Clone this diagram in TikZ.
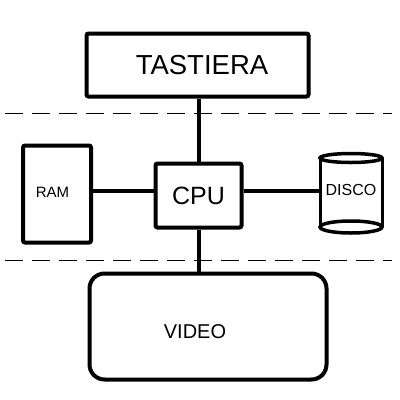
\documentclass[tikz,border=0pt]{standalone}
\usepackage{fontspec}
\setmainfont{Liberation Sans}
\begin{document}
\begin{tikzpicture}[x=1pt,y=-1pt,
  box/.style={draw,line width=4pt,rounded corners=2pt,inner sep=0pt},
  wire/.style={line width=4pt},
  sep/.style={line width=1pt,dash pattern=on 18pt off 9pt}]
\useasboundingbox (0,0) rectangle (400,400);
% boxes
\node[box,minimum width=222pt,minimum height=63pt] (tast) at (197.5,65) {};
\node[font=\fontsize{27.5}{30}\selectfont] (tlab) at (202,65) {TASTIERA};
\node[box,minimum width=68pt,minimum height=97pt] (ram) at (57,194) {};
\node[font=\fontsize{15}{18}\selectfont] (rlab) at (52.5,192) {RAM};
\node[box,minimum width=86pt,minimum height=64pt,font=\fontsize{25}{28}\selectfont] (cpu) at (198.5,195.5) {CPU};
\node[box,rounded corners=15pt,minimum width=237pt,minimum height=106pt] (video) at (208,326.5) {};
\node[font=\fontsize{20}{24}\selectfont] (vlab) at (195,332) {VIDEO};
% cylinder
\coordinate (dtop) at (351,158);
\coordinate (dbot) at (351,227);
\draw[line width=3pt] (320,158) -- (320,227) (382,158) -- (382,227);
\draw[line width=3.5pt,fill=white] (dtop) ellipse [x radius=31, y radius=4.5];
\draw[line width=3.5pt] (dbot) ellipse [x radius=31, y radius=6];
\node[font=\fontsize{16}{19}\selectfont,inner sep=0pt] (disco) at (351,190) {DISCO};
\coordinate (dleft) at (320,191);
% separators
\coordinate (s1a) at (5,113); \coordinate (s1b) at (392,113);
\coordinate (s2a) at (5,260); \coordinate (s2b) at (392,260);
\draw[sep] (s1a) -- (s1b);
\draw[sep] (s2a) -- (s2b);
% wires
\draw[wire] (tast.south -| cpu.north) -- (cpu.north);
\draw[wire] (cpu.south) -- (cpu.south |- video.north);
\draw[wire] (ram.east |- 0,191) -- (cpu.west |- 0,191);
\draw[wire] (cpu.east |- 0,191) -- (dleft);
\end{tikzpicture}
\end{document}
